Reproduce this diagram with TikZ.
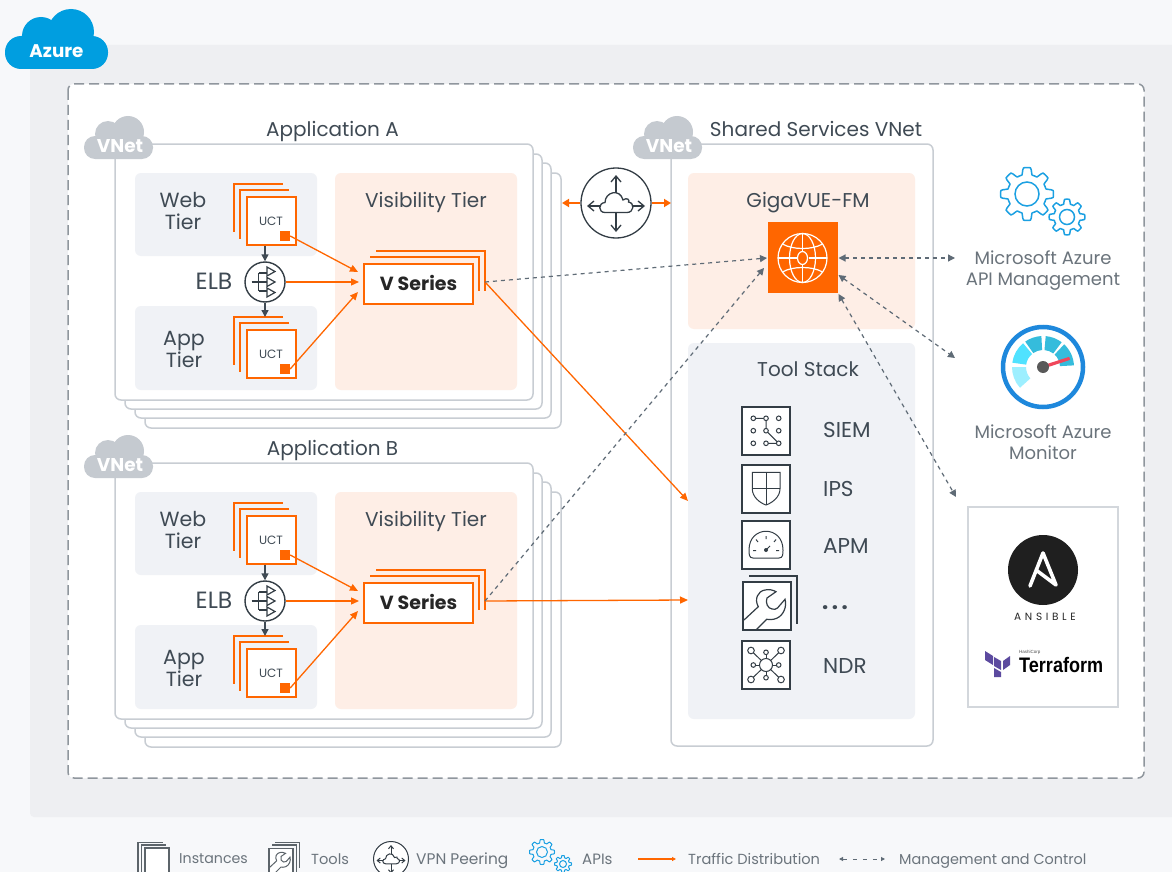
\documentclass[tikz,border=0pt]{standalone}
\usepackage{fontspec}
\usepackage{graphicx}
\setmainfont{Poppins}
\usetikzlibrary{arrows.meta,calc}
\definecolor{pagebg}{HTML}{F7F8FA}
\definecolor{band}{HTML}{EEEFF2}
\definecolor{dashc}{HTML}{8F969D}
\definecolor{frame}{HTML}{C8CDD3}
\definecolor{cloudg}{HTML}{C5CAD0}
\definecolor{azureb}{HTML}{009EE0}
\definecolor{tierg}{HTML}{F0F2F6}
\definecolor{peach}{HTML}{FEEEE6}
\definecolor{orng}{HTML}{FF6600}
\definecolor{ink}{HTML}{3F4A54}
\definecolor{soft}{HTML}{6B747C}
\definecolor{mgmt}{HTML}{5F6B76}
\definecolor{gearb}{HTML}{1BA0E2}
\definecolor{icon}{HTML}{333D45}
\definecolor{tfp}{HTML}{5C4A9F}
\definecolor{gring}{HTML}{1E88DC}
\definecolor{gseg}{HTML}{35BCDC}
\definecolor{glight}{HTML}{50E2FF}
\definecolor{gpale}{HTML}{9DEFFF}
\definecolor{gneedle}{HTML}{F0465A}
\newcommand\fsz[1]{\fontsize{#1}{#1}\selectfont}
\tikzset{
  lab/.style={inner sep=0pt,text=ink,align=center,text height=14.5pt,text depth=0.5pt,font=\fontsize{20}{22}\selectfont},
  softlab/.style={inner sep=0pt,text=soft,align=center,text height=13pt,text depth=0.5pt,font=\fontsize{18}{21}\selectfont},
  leglab/.style={inner sep=0pt,text=soft,anchor=west,text height=11pt,text depth=0.5pt,font=\fontsize{14.6}{16}\selectfont},
  toollab/.style={inner sep=0pt,text=ink,anchor=west,text height=14.5pt,text depth=0.5pt,font=\fontsize{21.5}{22}\selectfont},
  frm/.style={draw=frame,line width=1.5pt,fill=white,rounded corners=6pt},
  panelg/.style={fill=tierg,rounded corners=6pt},
  panelp/.style={fill=peach,rounded corners=6pt},
  stk/.style={draw=orng,line width=1.5pt},
  traffic/.style={draw=orng,line width=1.3pt,-{Triangle[length=8pt,width=7pt]}},
  ctrl/.style={draw=mgmt,line width=1.2pt,dash pattern=on 4pt off 4pt,-{Triangle[length=7pt,width=7pt]}},
  ctrlb/.style={draw=mgmt,line width=1.2pt,dash pattern=on 4pt off 4pt,{Triangle[length=7pt,width=7pt]}-{Triangle[length=7pt,width=7pt]}},
  ic/.style={draw=icon,line width=1pt},
  icbox/.style={draw=icon,line width=1.2pt,fill=white,minimum width=48pt,minimum height=48pt,inner sep=0pt},
  elbar/.style={draw=ink,line width=1.4pt,-{Triangle[length=7pt,width=7pt]}}
}
\newcommand\vnetcloud[3]{%
  \begin{scope}[shift={(#2,#3)}]
    \fill[cloudg] (128,132) circle[radius=16];
    \fill[cloudg] (108,134) circle[radius=13];
    \fill[cloudg,rounded corners=11pt] (84,136) rectangle (153,159);
    \node[inner sep=0pt,text=white,font=\fsz{18.5}\bfseries] (#1) at (120,146) {VNet};
  \end{scope}}
\newcommand\uct[2]{%
  \begin{scope}[shift={(0,#2)}]
    \draw[stk] (283,184) -- (234,184) -- (234,232);
    \draw[stk] (289,190) -- (240,190) -- (240,239);
    \node[draw=orng,line width=1.5pt,fill=white,minimum width=49pt,minimum height=48pt,inner sep=0pt] (#1) at (271.5,221) {};
    \node[inner sep=0pt,text=ink,font=\fsz{12}] (#1t) at (271,221) {UCT};
    \node[fill=orng,minimum size=10pt,inner sep=0pt] (#1s) at (285,236) {};
  \end{scope}}
\newcommand\appblock[3]{%
  \begin{scope}[shift={(0,#3)}]
    \draw[frm] (145,173) rectangle (561,428);
    \draw[frm] (135,163) rectangle (551,418);
    \draw[frm] (125,154) rectangle (542,409);
    \draw[frm] (115,144) rectangle (533,400);
    \node[lab] (title#1) at (332.5,129) {#2};
    \fill[panelg] (135,173) rectangle (317,256);
    \fill[panelg] (135,306) rectangle (317,390);
    \fill[panelp] (335,173) rectangle (517,390);
    \node[lab,font=\fontsize{20.5}{22}\selectfont] (web#1) at (183,222) {Web\\Tier};
    \node[lab,font=\fontsize{20.5}{22}\selectfont] (app#1) at (184,360) {App\\Tier};
    \node[lab,font=\fontsize{23.5}{22}\selectfont,text height=15pt] (elbl#1) at (214,282) {ELB};
    \node[lab] (vis#1) at (426,200) {Visibility Tier};
    \uct{uw#1}{0}
    \uct{ua#1}{133}
    \node[circle,draw=icon,line width=1.4pt,fill=white,minimum size=40pt,inner sep=0pt] (elb#1) at (265,282) {};
    \draw[ic,line width=1.2pt] (251.5,282) -- (267,282) (258.5,273) -- (258.5,291) (258.5,273) -- (267,273) (258.5,291) -- (267,291);
    \foreach \ty in {271.5,282,292.5}{\draw[ic,line width=1.2pt,fill=white] (267,\ty-4.5) -- (275,\ty) -- (267,\ty+4.5) -- cycle;}
    \draw[stk] (370,257) -- (479,257) -- (479,291);
    \draw[stk] (376,251) -- (485,251) -- (485,291);
    \node[draw=orng,line width=1.5pt,fill=white,minimum width=109pt,minimum height=40pt,inner sep=0pt,text=black!85,font=\fsz{19}\bfseries] (vs#1) at (418.5,284) {\raisebox{1.5pt}{V Series}};
    \coordinate (vs#1out) at (485,282);
    \coordinate (vs#1t) at (358,272);
    \coordinate (vs#1m) at (359,282);
    \coordinate (vs#1b) at (358,292);
    \coordinate (ua#1top) at (265,317);
    \draw[elbar] (uw#1.south -| elb#1.north) -- (elb#1.north);
    \draw[elbar] (elb#1.south) -- (ua#1top);
    \draw[traffic] (uw#1s.east) -- (vs#1t);
    \draw[traffic] (elb#1.east) -- (vs#1m);
    \draw[traffic] (ua#1s.east) -- (vs#1b);
  \end{scope}}
\newcommand\peering[5]{%
  \begin{scope}[shift={(#2,#3)},scale=#4,line width=#5pt,draw=icon]
    \node[circle,draw=icon,line width=#5pt,fill=white,minimum size=#4*70pt,inner sep=0pt] (#1) at (0,0) {};
    \draw[draw=icon] (-11,9.5) .. controls (-18,9.5) and (-18,0) .. (-11,-0.5) .. controls (-11,-11) and (4,-15) .. (7,-3) .. controls (11,-6) and (14,-3) .. (12.5,-1) .. controls (19,0) and (18,9.5) .. (11,9.5) -- cycle;
    \draw[draw=icon,-{Straight Barb[length=#4*6pt,width=#4*10pt]}] (0,-10) -- (0,-28);
    \draw[draw=icon,-{Straight Barb[length=#4*6pt,width=#4*10pt]}] (0,10) -- (0,29);
    \draw[draw=icon,-{Straight Barb[length=#4*6pt,width=#4*10pt]}] (-16,3) -- (-29,3);
    \draw[draw=icon,-{Straight Barb[length=#4*6pt,width=#4*10pt]}] (16,3) -- (29,3);
  \end{scope}}
\newcommand\gear[5]{%
  \begin{scope}[shift={(#1,#2)}]
    \draw[draw=gearb,line width=#5pt,line join=round] plot[domain=0:360,samples=145] (\x:{#3*(0.87+0.13*max(-1,min(1,2.5*cos(8*\x))))}) -- cycle;
    \draw[draw=gearb,line width=#5pt] (0,0) circle[radius=#4];
  \end{scope}}
\newcommand\wrench{(1,38) -- (15.3,24.7) .. controls (11,17) and (15,9) .. (22,8) .. controls (26,7) and (30,8) .. (33,9.7) -- (24,16) .. controls (22,21) and (25,26.5) .. (29,27) .. controls (31,27.5) and (33,27.5) .. (34.5,26) -- (42,17.3) .. controls (44,24) and (41,33) .. (33.7,36.3) .. controls (30,38) and (26,37.5) .. (23.7,37.3) -- (13,48)}
\begin{document}
\begin{tikzpicture}[x=1pt,y=-1pt]
\useasboundingbox (0,0) rectangle (1172,872);
\fill[pagebg] (0,0) rectangle (1172,872);
\fill[band,rounded corners=4pt] (30,45) rectangle (1180,817);
\draw[draw=dashc,fill=white,line width=1.5pt,dash pattern=on 10pt off 5pt,rounded corners=6pt] (68,84) rectangle (1144,778);
\fill[azureb] (71,32) circle[radius=23];
\fill[azureb] (41,36) circle[radius=19];
\fill[azureb,rounded corners=16pt] (5,36) rectangle (108,69);
\node[inner sep=0pt,text=white,font=\fsz{18.3}\bfseries] (azure) at (56.5,51.5) {Azure};
\appblock{A}{Application A}{0}
\appblock{B}{Application B}{319}
\vnetcloud{vnetA}{0}{0}
\vnetcloud{vnetB}{0}{319}
\draw[frm] (671,144) rectangle (933,746);
\vnetcloud{vnetS}{549}{0}
\node[lab] (shared) at (816,129) {Shared Services VNet};
\fill[panelp] (688,173) rectangle (915,329);
\fill[panelg] (688,343) rectangle (915,719);
\node[lab] (fmt) at (808,200) {GigaVUE-FM};
\node[lab] (tst) at (808,369) {Tool Stack};
\node[fill=orng,minimum width=70pt,minimum height=71pt,inner sep=0pt] (fm) at (803,257.5) {};
\begin{scope}[shift={(802.5,258)},draw=white,line width=1.2pt]
  \draw[white] (0,0) circle[radius=24.5];
  \draw[white] (-24.5,0) -- (-6,0) (6,0) -- (24.5,0);
  \draw[white] (0,-24.5) -- (0,-6.5) (0,6.5) -- (0,24.5);
  \draw[white] (0,0) ellipse[x radius=5,y radius=6.5];
  \draw[white] (0,0) ellipse[x radius=13,y radius=24.5];
  \draw[white] (-20,-14) .. controls (-10,-8) and (10,-8) .. (20,-14);
  \draw[white] (-20,14) .. controls (-10,8) and (10,8) .. (20,14);
\end{scope}
\peering{vpn}{616}{203}{1}{1.3}
\coordinate (peerL) at (562,203);
\coordinate (peerR) at (671,203);
\draw[draw=orng,line width=2.4pt,-{Triangle[length=7pt,width=8pt]}] (vpn.west) -- (peerL);
\draw[draw=orng,line width=2.4pt,-{Triangle[length=7pt,width=8pt]}] (vpn.east) -- (peerR);
\node[icbox] (siem) at (766,431) {};
\begin{scope}[shift={(742,407)},ic]
  \foreach \px in {11.3,24,36.7}{\foreach \py in {11.3,23.7,36.3}{\draw[ic,fill=white] (\px,\py) circle[radius=2.3];}}
  \draw[ic] (13.6,11.3) -- (21.7,11.3) (24,13.6) -- (24,21.4) (25.7,25.4) -- (35,34.6) (26.3,36.3) -- (34.4,36.3);
\end{scope}
\node[icbox] (ips) at (766,489) {};
\begin{scope}[shift={(742,465)}]
  \draw[ic] (10.3,7.3) -- (38,7.3) -- (38,24) .. controls (38,32) and (30,38) .. (24,40) .. controls (18,38) and (10.3,32) .. (10.3,24) -- cycle;
  \draw[ic] (24,7.3) -- (24,40) (10.3,23) -- (38,23);
\end{scope}
\node[icbox] (apm) at (766,545) {};
\begin{scope}[shift={(742,521)}]
  \draw[ic] (7,29) .. controls (7,4) and (41,4) .. (41,29) .. controls (41,33) and (41,37) .. (37,37) -- (11,37) .. controls (7,37) and (7,33) .. (7,29) -- cycle;
  \draw[ic] (24,15) -- (24,18) (14,18.5) -- (16,21) (34,18.5) -- (32,21) (11,29.5) -- (14,29.5) (37,29.5) -- (34,29.5);
  \fill[icon] (24,29) circle[radius=2];
  \draw[ic] (24,29) -- (28,25);
\end{scope}
\draw[ic,line width=1.2pt] (749,576) -- (797,576) -- (797,624);
\node[icbox] (tool) at (767,606) {};
\begin{scope}[shift={(743,582)}]
  \draw[ic,line width=1.2pt] \wrench;
\end{scope}
\node[icbox] (ndr) at (766,665) {};
\begin{scope}[shift={(766,665)}]
  \foreach \dx/\dy in {-15/-14.5,15/-14.5,-15/14.5,15/14.5}{\draw[ic] (0,0) -- (\dx,\dy); \draw[ic,fill=white] (\dx,\dy) circle[radius=3.3];}
  \foreach \dx/\dy in {0/-12.7,0/12.7,-12.7/0,12.7/0}{\draw[ic] (0,0) -- (\dx,\dy); \draw[ic,fill=white] (\dx,\dy) circle[radius=2.3];}
  \draw[ic,fill=white] (0,0) circle[radius=6.5];
\end{scope}
\node[toollab] (siemt) at (823,430.7) {SIEM};
\node[toollab] (ipst) at (823,489) {IPS};
\node[toollab] (apmt) at (823,546) {APM};
\node[inner sep=0pt,text=ink,anchor=base west,font=\fsz{22}\bfseries\addfontfeature{LetterSpace=16}] (moret) at (822,609) {...};
\node[toollab] (ndrt) at (823,666) {NDR};
\gear{1027}{194}{26.4}{12}{1.5}
\gear{1067}{217}{17.8}{7.5}{1.5}
\node[softlab] (api) at (1043,279) {Microsoft Azure\\API Management};
\begin{scope}[shift={(1043,367)},yscale=-1]
  \fill[white] (0,0) circle[radius=40];
  \draw[draw=gring,line width=4.5pt] (0,0) circle[radius=40];
  \fill[gpale] (180:17) arc[start angle=180,end angle=222,radius=17] -- (222:31) arc[start angle=222,end angle=180,radius=31] -- cycle;
  \fill[glight] (130:17) arc[start angle=130,end angle=172,radius=17] -- (172:31) arc[start angle=172,end angle=130,radius=31] -- cycle;
  \fill[gseg] (93:17) arc[start angle=93,end angle=125,radius=17] -- (125:31) arc[start angle=125,end angle=93,radius=31] -- cycle;
  \fill[gseg] (53:17) arc[start angle=53,end angle=85,radius=17] -- (85:31) arc[start angle=85,end angle=53,radius=31] -- cycle;
  \fill[gseg] (3:17) arc[start angle=3,end angle=47,radius=17] -- (47:31) arc[start angle=47,end angle=3,radius=31] -- cycle;
  \draw[draw=gneedle,line width=3.2pt] (0,0) -- (18:28);
  \fill[black!65] (0,0) circle[radius=6];
\end{scope}
\coordinate (apiEnd) at (955,258);
\coordinate (monEnd) at (955,358);
\coordinate (ansEnd) at (956,497);
\node[softlab] (mon) at (1043,453) {Microsoft Azure\\Monitor};
\node[draw=frame!80,line width=1.2pt,fill=white,minimum width=150pt,minimum height=200pt,inner sep=0pt] (toolbox) at (1043,607) {};
\fill[black!88] (1043,570) circle[radius=35];
\draw[white,line width=3.6pt,line join=round,line cap=round] (1030,586) -- (1043,553) -- (1056,585) -- (1036,570);
\node[inner sep=0pt,text=black!85,font=\fsz{10.5}\addfontfeature{LetterSpace=35}] (ansible) at (1045,617) {ANSIBLE};
\fill[tfp] (985,651) -- (993,656) -- (993,665) -- (985,660) -- cycle;
\fill[tfp] (994,657) -- (1001,661) -- (1001,670) -- (994,666) -- cycle;
\fill[tfp] (994,668) -- (1001,672) -- (1001,677) -- (994,677) -- cycle;
\fill[tfp] (1003,661) -- (1010,656) -- (1010,665) -- (1003,670) -- cycle;
\node[inner sep=0pt,text=black,anchor=west,font=\fontspec{Liberation Sans}\fsz{21}\bfseries] (tf) at (1019,665) {\scalebox{0.86}[1]{Terraform}};
\node[inner sep=0pt,text=black!70,anchor=west,font=\fontspec{Liberation Sans}\fsz{4.5}] (hc) at (1019,652) {HashiCorp};
\coordinate (siemIn) at (688,501);
\coordinate (moreIn) at (688,600);
\coordinate (fmA) at (767,258);
\coordinate (fmB) at (764,268);
\coordinate (fmR) at (838.5,258);
\coordinate (fmM) at (838.5,275);
\coordinate (fmD) at (838.5,294);
\draw[traffic] (vsAout) -- (siemIn);
\draw[traffic] (vsBout) -- (moreIn);
\draw[ctrl] (vsAout) -- (fmA);
\draw[ctrl] (vsBout) -- (fmB);
\draw[ctrlb] (fmR) -- (apiEnd);
\draw[ctrlb] (fmM) -- (monEnd);
\draw[ctrlb] (fmD) -- (ansEnd);
\draw[draw=icon!80,line width=1.1pt] (138,872) -- (138,842.5) -- (163,842.5);
\draw[draw=icon!80,line width=1.1pt] (141.5,872) -- (141.5,845) -- (166,845);
\draw[draw=icon!80,line width=1.1pt,fill=white] (145,873) -- (145,848) -- (169,848) -- (169,873);
\node[leglab,font=\fontsize{14.2}{16}\selectfont] (lgI) at (179,858) {Instances};
\draw[draw=icon!80,line width=1.1pt] (275,842.5) -- (299.5,842.5) -- (299.5,868);
\draw[draw=icon!80,line width=1.1pt] (272,845) -- (296.5,845) -- (296.5,872);
\draw[draw=icon!80,line width=1.1pt,fill=white] (269,873) -- (269,848.5) -- (293,848.5) -- (293,873);
\begin{scope}[shift={(269,848.5)},scale=0.5]
  \draw[draw=icon!80,line width=1pt] \wrench;
\end{scope}
\node[leglab] (lgT) at (311,859) {Tools};
\peering{lgvpn}{391}{859}{0.5}{1}
\node[leglab,font=\fontsize{15.4}{16}\selectfont] (lgV) at (416,859) {VPN Peering};
\gear{542}{852}{12.5}{5.5}{1}
\gear{563}{864}{8.5}{3.5}{1}
\node[leglab,font=\fontsize{15}{16}\selectfont] (lgA) at (582,859) {APIs};
\coordinate (lgo1) at (638,859);
\coordinate (lgo2) at (676,859);
\draw[draw=orng,line width=1.2pt,-{Triangle[length=4pt,width=4pt]}] (lgo1) -- (lgo2);
\node[leglab] (lgD) at (688,859) {Traffic Distribution};
\coordinate (lgc1) at (839,859);
\coordinate (lgc2) at (885,859);
\draw[draw=mgmt,line width=1pt,dash pattern=on 4pt off 6pt,{Triangle[length=4pt,width=4pt]}-{Triangle[length=4pt,width=4pt]}] (lgc1) -- (lgc2);
\node[leglab,font=\fontsize{14.4}{16}\selectfont] (lgM) at (899,859) {Management and Control};
\end{tikzpicture}
\end{document}
